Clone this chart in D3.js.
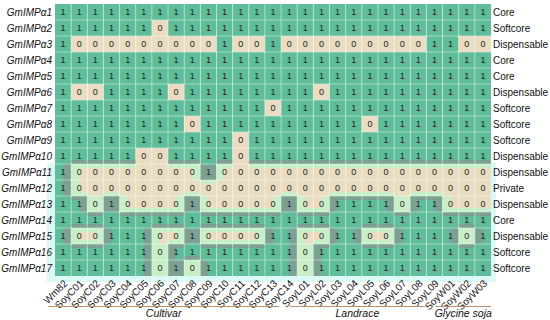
<!DOCTYPE html>
<html>
<head>
<meta charset="utf-8">
<script src="https://cdn.jsdelivr.net/npm/d3@7"></script>
<style>
  body { margin: 0; background: #fff; }
  text { font-family: "Liberation Sans", Arial, sans-serif; }
</style>
</head>
<body>
<div id="chart"></div>
<script>
// genes (rows), accessions (columns) and presence/absence values
var rowNames = ["GmIMPα1", "GmIMPα2", "GmIMPα3", "GmIMPα4", "GmIMPα5", "GmIMPα6", "GmIMPα7", "GmIMPα8",
    "GmIMPα9", "GmIMPα10", "GmIMPα11", "GmIMPα12", "GmIMPα13", "GmIMPα14", "GmIMPα15", "GmIMPα16", "GmIMPα17"];

var colNames = ["Wm82", "SoyC01", "SoyC02", "SoyC03", "SoyC04", "SoyC05", "SoyC06", "SoyC07", "SoyC08",
    "SoyC09", "SoyC10", "SoyC11", "SoyC12", "SoyC13", "SoyC14", "SoyL01", "SoyL02", "SoyL03", "SoyL04",
    "SoyL05", "SoyL06", "SoyL07", "SoyL08", "SoyL09", "SoyW01", "SoyW02", "SoyW03"];

var classLabels = ["Core", "Softcore", "Dispensable", "Core", "Core", "Dispensable", "Softcore", "Softcore",
    "Softcore", "Dispensable", "Dispensable", "Private", "Dispensable", "Core", "Dispensable", "Softcore", "Softcore"];

var groupNames = ["Cultivar", "Landrace", "Glycine soja"];
var groupFirst = ["Wm82", "SoyL01", "SoyW01"];
var groupLast = ["SoyC14", "SoyL09", "SoyW03"];

var values = [
    [1,1,1,1,1,1,1,1,1,1,1,1,1,1,1,1,1,1,1,1,1,1,1,1,1,1,1],
    [1,1,1,1,1,1,0,1,1,1,1,1,1,1,1,1,1,1,1,1,1,1,1,1,1,1,1],
    [1,0,0,0,0,0,0,0,0,0,1,0,0,1,0,0,0,0,0,0,0,0,0,1,1,0,0],
    [1,1,1,1,1,1,1,1,1,1,1,1,1,1,1,1,1,1,1,1,1,1,1,1,1,1,1],
    [1,1,1,1,1,1,1,1,1,1,1,1,1,1,1,1,1,1,1,1,1,1,1,1,1,1,1],
    [1,0,0,1,1,1,1,0,1,1,1,1,1,1,1,1,0,1,1,1,1,1,1,1,1,1,1],
    [1,1,1,1,1,1,1,1,1,1,1,1,1,0,1,1,1,1,1,1,1,1,1,1,1,1,1],
    [1,1,1,1,1,1,1,1,0,1,1,1,1,1,1,1,1,1,1,0,1,1,1,1,1,1,1],
    [1,1,1,1,1,1,1,1,1,1,1,0,1,1,1,1,1,1,1,1,1,1,1,1,1,1,1],
    [1,1,1,1,1,0,0,1,1,1,1,0,1,1,1,1,1,1,1,1,1,1,1,1,1,1,1],
    [1,0,0,0,0,0,0,0,0,1,0,0,0,0,0,0,0,0,0,0,0,0,0,0,0,0,0],
    [1,0,0,0,0,0,0,0,0,0,0,0,0,0,0,0,0,0,0,0,0,0,0,0,0,0,0],
    [1,1,0,1,0,0,0,0,1,0,0,0,0,0,1,0,0,1,1,1,1,0,1,1,0,0,0],
    [1,1,1,1,1,1,1,1,1,1,1,1,1,1,1,1,1,1,1,1,1,1,1,1,1,1,1],
    [1,0,0,1,1,1,0,0,1,0,0,0,0,1,1,0,0,1,1,0,0,1,1,1,1,0,1],
    [1,1,1,1,1,1,0,1,1,1,1,1,1,1,1,0,1,1,1,1,1,1,1,1,1,1,1],
    [1,1,1,1,1,1,0,1,0,1,1,1,1,1,1,0,1,1,1,1,1,1,1,1,1,1,1]
];

var svgWidth = 550;
var svgHeight = 320;

var margin = {
    top: 4,
    right: 59,
    bottom: 44,
    left: 55
};

var width = svgWidth - margin.left - margin.right;
var height = svgHeight - margin.top - margin.bottom;

var svg = d3.select("#chart")
    .append("svg")
    .attr("width", svgWidth)
    .attr("height", svgHeight)
;

var chartGroup = svg.append("g")
    .attr("transform", `translate(${margin.left}, ${margin.top})`)
;

var xScale = d3.scaleBand()
    .domain(colNames)
    .range([0, width])
;

var yScale = d3.scaleBand()
    .domain(rowNames)
    .range([0, height])
;

var colorScale = d3.scaleOrdinal()
    .domain([0, 1])
    .range(["#eadcc0", "#5fbd9a"])
;

// build cell list
var cells = [];
values.forEach(function(row, i) {
    row.forEach(function(v, j) {
        cells.push({ row: rowNames[i], col: colNames[j], i: i, j: j, value: v });
    });
});

var bw = xScale.bandwidth();
var bh = yScale.bandwidth();

// light cyan patch behind the lower block (pasted-in look of the source)
var lowStart = 10;
chartGroup.append("rect")
    .attr("x", -8)
    .attr("y", yScale(rowNames[lowStart]) - 1)
    .attr("width", width + 13)
    .attr("height", height - yScale(rowNames[lowStart]) + 7)
    .attr("fill", "#dcf9f5")
;

chartGroup.selectAll(".cell")
    .data(cells)
    .enter()
    .append("rect")
    .attr("class", "cell")
    .attr("x", d => xScale(d.col))
    .attr("y", d => yScale(d.row))
    .attr("width", bw)
    .attr("height", bh)
    .attr("fill", d => colorScale(d.value))
;

// tinted edges in the lower block where neighbours differ
var tints = [];
cells.forEach(function(d) {
    if (d.i < lowStart - 1) return;
    var tint = d.value === 1 ? "#7ca193" : "#c9efc8";
    var row = values[d.i];
    if (d.i >= lowStart) {
        if (d.j > 0 && row[d.j - 1] !== d.value) {
            tints.push({ x: xScale(d.col), y: yScale(d.row), w: bw / 2, h: bh, c: tint });
        }
        if (d.j < row.length - 1 && row[d.j + 1] !== d.value) {
            tints.push({ x: xScale(d.col) + bw / 2, y: yScale(d.row), w: bw / 2, h: bh, c: tint });
        }
        if (values[d.i - 1][d.j] !== d.value) {
            tints.push({ x: xScale(d.col), y: yScale(d.row), w: bw, h: bh * 0.25, c: tint });
        }
    }
    if (d.i < values.length - 1 && values[d.i + 1][d.j] !== d.value) {
        tints.push({ x: xScale(d.col), y: yScale(d.row) + bh * 0.75, w: bw, h: bh * 0.25, c: tint });
    }
});

chartGroup.selectAll(".tint")
    .data(tints)
    .enter()
    .append("rect")
    .attr("class", "tint")
    .attr("x", d => d.x)
    .attr("y", d => d.y)
    .attr("width", d => d.w)
    .attr("height", d => d.h)
    .attr("fill", d => d.c)
;

// white grid lines
chartGroup.selectAll(".vline")
    .data(colNames.slice(1))
    .enter()
    .append("line")
    .attr("x1", d => xScale(d))
    .attr("x2", d => xScale(d))
    .attr("y1", 0)
    .attr("y2", height)
    .attr("stroke", "#ffffff")
    .attr("stroke-opacity", 0.55)
    .attr("stroke-width", 0.8)
;

chartGroup.selectAll(".hline")
    .data(rowNames.slice(1))
    .enter()
    .append("line")
    .attr("x1", 0)
    .attr("x2", width)
    .attr("y1", d => yScale(d))
    .attr("y2", d => yScale(d))
    .attr("stroke", "#ffffff")
    .attr("stroke-opacity", 0.55)
    .attr("stroke-width", 0.8)
;

// cell values
chartGroup.selectAll(".num")
    .data(cells)
    .enter()
    .append("text")
    .attr("x", d => xScale(d.col) + bw / 2)
    .attr("y", d => yScale(d.row) + bh / 2)
    .attr("dy", "0.35em")
    .attr("text-anchor", "middle")
    .style("font-size", "9px")
    .attr("fill", "#1e1e1e")
    .text(d => d.value)
;

// row labels
chartGroup.selectAll(".rlabel")
    .data(rowNames)
    .enter()
    .append("text")
    .attr("x", -3)
    .attr("y", d => yScale(d) + bh / 2)
    .attr("dy", "0.35em")
    .attr("text-anchor", "end")
    .style("font-size", "10px")
    .style("font-style", "italic")
    .attr("fill", "#111")
    .text(d => d)
;

// class labels on the right
chartGroup.selectAll(".clabel")
    .data(classLabels)
    .enter()
    .append("text")
    .attr("x", width + 2)
    .attr("y", (d, i) => yScale(rowNames[i]) + bh / 2)
    .attr("dy", "0.35em")
    .style("font-size", "10px")
    .attr("fill", "#111")
    .text(d => d)
;

// column labels, rotated
chartGroup.selectAll(".xlabel")
    .data(colNames)
    .enter()
    .append("text")
    .attr("transform", d => `translate(${xScale(d) + bw / 2 + 5}, ${height + 8}) rotate(-45)`)
    .attr("text-anchor", "end")
    .style("font-size", "10px")
    .attr("fill", "#111")
    .text(d => d)
;

// group brackets
groupNames.forEach(function(g, i) {
    var x1 = xScale(groupFirst[i]) - 7;
    var x2 = i === groupNames.length - 1 ? width : xScale(groupLast[i]) + bw - 18;
    chartGroup.append("line")
        .attr("x1", x1)
        .attr("x2", x2)
        .attr("y1", height + 30.5)
        .attr("y2", height + 30.5)
        .attr("stroke", "#b98f6c")
        .attr("stroke-width", 1.2)
    ;
    chartGroup.append("text")
        .attr("x", (x1 + x2) / 2)
        .attr("y", height + 37)
        .attr("dy", "0.35em")
        .attr("text-anchor", "middle")
        .style("font-size", "10.5px")
        .style("font-style", "italic")
        .attr("fill", "#111")
        .text(g)
    ;
});
</script>
</body>
</html>
